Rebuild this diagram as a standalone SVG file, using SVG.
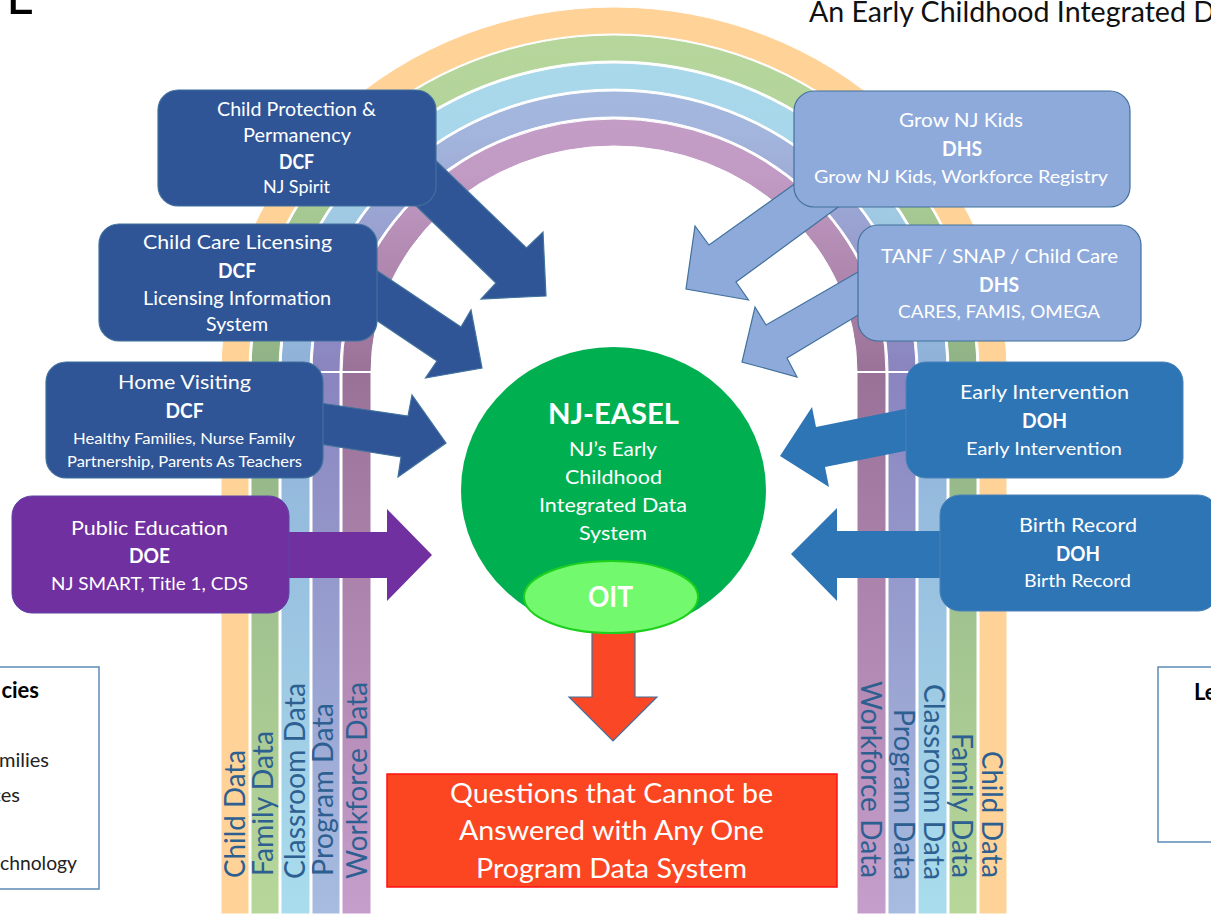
<svg xmlns="http://www.w3.org/2000/svg" width="1211" height="914" viewBox="0 0 1211 914">
<style>
text{font-family:Lato,"Open Sans","Liberation Sans",sans-serif}
.t{fill:#fff;text-anchor:middle}
.m{font-size:20px}
.b{font-size:21px;font-weight:700}
.s{font-size:18px}
.h{font-size:16px}
.box{stroke:#41719c;stroke-width:1.2}
.arw{stroke:#41719c;stroke-width:1.2;stroke-linejoin:miter}
.dcf{fill:#2f5597}
.doh{fill:#2e75b6}
.dhs{fill:#8eaadb}
.doe{fill:#7030a0}
.band{stroke:#fff;stroke-width:1}
.lab{font-size:28px;fill:#2d6091;text-anchor:start}
.leg{fill:#fff;stroke:#5b8ab5;stroke-width:1.5}
.lt{font-size:20px;fill:#222;text-anchor:end}
.ltb{font-size:22px;font-weight:700;fill:#000}
</style>
<defs>
<linearGradient id="gG" gradientUnits="userSpaceOnUse" x1="0" y1="7" x2="0" y2="914"><stop offset="0" stop-color="#b7d79d"/><stop offset=".14" stop-color="#b2d399"/><stop offset=".4" stop-color="#8fb286"/><stop offset="1" stop-color="#b7d79a"/></linearGradient>
<linearGradient id="gB" gradientUnits="userSpaceOnUse" x1="0" y1="7" x2="0" y2="914"><stop offset="0" stop-color="#aadaec"/><stop offset=".14" stop-color="#a8d6ea"/><stop offset=".4" stop-color="#8fb0d8"/><stop offset="1" stop-color="#a9dded"/></linearGradient>
<linearGradient id="gP" gradientUnits="userSpaceOnUse" x1="0" y1="7" x2="0" y2="914"><stop offset="0" stop-color="#a6bbe0"/><stop offset=".14" stop-color="#a3b5dc"/><stop offset=".4" stop-color="#8a84bf"/><stop offset="1" stop-color="#a7bce0"/></linearGradient>
<linearGradient id="gW" gradientUnits="userSpaceOnUse" x1="0" y1="119" x2="0" y2="914"><stop offset="0" stop-color="#c49dc6"/><stop offset=".07" stop-color="#c29bc4"/><stop offset=".32" stop-color="#9a7298"/><stop offset="1" stop-color="#c69ecb"/></linearGradient>
</defs>
<rect width="1211" height="914" fill="#fff"/>
<text x="6" y="14" style="font-size:52px;fill:#000">L</text>
<text x="809" y="22" textLength="406" lengthAdjust="spacingAndGlyphs" style="font-size:29px;fill:#111">An Early Childhood Integrated D</text>

<g id="rainbow">
<path class="band" fill="#ffd398" d="M221 914V372A393 365 0 0 1 1007 372V914H979V372A365 338 0 0 0 249 372V914Z"/>
<path class="band" fill="url(#gG)" d="M251 914V372A363 337 0 0 1 977 372V914H949V372A335 311 0 0 0 279 372V914Z"/>
<path class="band" fill="url(#gB)" d="M281 914V372A333 309 0 0 1 947 372V914H918V372A304 283 0 0 0 310 372V914Z"/>
<path class="band" fill="url(#gP)" d="M312 914V372A302 281 0 0 1 916 372V914H888V372A274 255 0 0 0 340 372V914Z"/>
<path class="band" fill="url(#gW)" d="M342 914V372A272 253 0 0 1 886 372V914H857V372A243 226 0 0 0 371 372V914Z"/>
<path d="M221 372H371M857 372H1007" stroke="#fff" stroke-width="2" fill="none"/>
<text class="lab" transform="translate(245 878) rotate(-90)" textLength="128" lengthAdjust="spacingAndGlyphs">Child Data</text>
<text class="lab" transform="translate(273 876) rotate(-90)" textLength="145" lengthAdjust="spacingAndGlyphs">Family Data</text>
<text class="lab" transform="translate(305 879) rotate(-90)" textLength="196" lengthAdjust="spacingAndGlyphs">Classroom Data</text>
<text class="lab" transform="translate(333 876) rotate(-90)" textLength="173" lengthAdjust="spacingAndGlyphs">Program Data</text>
<text class="lab" transform="translate(367 879) rotate(-90)" textLength="197" lengthAdjust="spacingAndGlyphs">Workforce Data</text>
<text class="lab" transform="translate(861 681) rotate(90)" textLength="197" lengthAdjust="spacingAndGlyphs">Workforce Data</text>
<text class="lab" transform="translate(894 709) rotate(90)" textLength="171" lengthAdjust="spacingAndGlyphs">Program Data</text>
<text class="lab" transform="translate(924 684) rotate(90)" textLength="196" lengthAdjust="spacingAndGlyphs">Classroom Data</text>
<text class="lab" transform="translate(952 733) rotate(90)" textLength="145" lengthAdjust="spacingAndGlyphs">Family Data</text>
<text class="lab" transform="translate(982 751) rotate(90)" textLength="127" lengthAdjust="spacingAndGlyphs">Child Data</text>
</g>

<g id="connectors">
<polygon class="arw dcf" points="430,155 526.5,248 543,232 546,296 481,299 496,283 410,200"/>
<polygon class="arw dcf" points="370,266 461,327 471,310 482,368 425.5,378 437,361 370,316"/>
<polygon class="arw dcf" points="320,403 408,416 412,395 446,443 398,477 401,457 320,444"/>
<polygon fill="#7030a0" points="285,532 387,532 387,509 432,555 387,601 387,578 285,578"/>
<polygon class="arw dhs" points="800,180 709,245 695,226 686,289 748.5,300 736,282 845,202"/>
<polygon class="arw dhs" points="865,268 766,325 755,307 742,362 797,377 787,358 865,311"/>
<polygon class="doh" points="910,408 816,427 812,407 780,456 829,487 825,467 910,450"/>
<polygon class="doh" points="945,531 837,531 837,508 791,554 837,601 837,578 945,578"/>
<polygon class="arw" fill="#fa4726" stroke="#5b7fa8" points="592,625 635,625 635,697 657,697 613,741 569,697 592,697"/>
</g>

<g id="node-cpp">
<rect class="box dcf" x="158" y="90" width="278" height="116" rx="20"/>
<text class="t m" x="296.5" y="116" textLength="159" lengthAdjust="spacingAndGlyphs">Child Protection &amp;</text>
<text class="t m" x="297" y="142" textLength="108" lengthAdjust="spacingAndGlyphs">Permanency</text>
<text class="t b" x="296.5" y="169" textLength="35" lengthAdjust="spacingAndGlyphs">DCF</text>
<text class="t s" x="296.5" y="193" textLength="67" lengthAdjust="spacingAndGlyphs">NJ Spirit</text>
</g>
<g id="node-ccl">
<rect class="box dcf" x="99" y="224" width="278" height="117" rx="20"/>
<text class="t m" x="237.5" y="249" textLength="189" lengthAdjust="spacingAndGlyphs">Child Care Licensing</text>
<text class="t b" x="237" y="278" textLength="38" lengthAdjust="spacingAndGlyphs">DCF</text>
<text class="t m" x="237" y="305" textLength="188" lengthAdjust="spacingAndGlyphs">Licensing Information</text>
<text class="t m" x="237" y="331" textLength="62" lengthAdjust="spacingAndGlyphs">System</text>
</g>
<g id="node-hv">
<rect class="box dcf" x="46" y="362" width="277" height="116" rx="20"/>
<text class="t m" x="184.5" y="389" textLength="133" lengthAdjust="spacingAndGlyphs">Home Visiting</text>
<text class="t b" x="184.5" y="418" textLength="38" lengthAdjust="spacingAndGlyphs">DCF</text>
<text class="t h" x="184" y="444" textLength="222" lengthAdjust="spacingAndGlyphs">Healthy Families, Nurse Family</text>
<text class="t h" x="184.5" y="467" textLength="235" lengthAdjust="spacingAndGlyphs">Partnership, Parents As Teachers</text>
</g>
<g id="node-edu">
<rect class="box doe" style="stroke:#5f44a6;stroke-width:1" x="12" y="496" width="277" height="117" rx="20"/>
<text class="t m" x="149.5" y="535" textLength="157" lengthAdjust="spacingAndGlyphs">Public Education</text>
<text class="t b" x="149.5" y="563" textLength="41" lengthAdjust="spacingAndGlyphs">DOE</text>
<text class="t s" x="149.5" y="590" textLength="197" lengthAdjust="spacingAndGlyphs">NJ SMART, Title 1, CDS</text>
</g>
<g id="node-grow">
<rect class="box dhs" x="794" y="91" width="336" height="116" rx="20"/>
<text class="t m" x="961" y="127" textLength="124" lengthAdjust="spacingAndGlyphs">Grow NJ Kids</text>
<text class="t b" x="962" y="156" textLength="40" lengthAdjust="spacingAndGlyphs">DHS</text>
<text class="t s" x="961" y="183" textLength="294" lengthAdjust="spacingAndGlyphs">Grow NJ Kids, Workforce Registry</text>
</g>
<g id="node-tanf">
<rect class="box dhs" x="858" y="225" width="283" height="116" rx="20"/>
<text class="t m" x="999.5" y="263" textLength="237" lengthAdjust="spacingAndGlyphs">TANF / SNAP / Child Care</text>
<text class="t b" x="999" y="292" textLength="40" lengthAdjust="spacingAndGlyphs">DHS</text>
<text class="t s" x="999" y="318" textLength="202" lengthAdjust="spacingAndGlyphs">CARES, FAMIS, OMEGA</text>
</g>
<g id="node-ei">
<rect class="box doh" style="stroke:#4a82b8;stroke-width:1" x="906" y="362" width="277" height="116" rx="20"/>
<text class="t m" x="1044.5" y="399" textLength="169" lengthAdjust="spacingAndGlyphs">Early Intervention</text>
<text class="t b" x="1044.5" y="428" textLength="45" lengthAdjust="spacingAndGlyphs">DOH</text>
<text class="t s" x="1044" y="455" textLength="156" lengthAdjust="spacingAndGlyphs">Early Intervention</text>
</g>
<g id="node-birth">
<rect class="box doh" style="stroke:#4a82b8;stroke-width:1" x="940" y="495" width="278" height="116" rx="20"/>
<text class="t m" x="1078" y="532" textLength="118" lengthAdjust="spacingAndGlyphs">Birth Record</text>
<text class="t b" x="1078" y="561" textLength="44" lengthAdjust="spacingAndGlyphs">DOH</text>
<text class="t s" x="1077.5" y="587" textLength="107" lengthAdjust="spacingAndGlyphs">Birth Record</text>
</g>
<g id="node-easel">
<ellipse cx="613.5" cy="490" rx="152.5" ry="143" fill="#00b050"/>
<text class="t" style="font-size:29px;font-weight:700" x="613.5" y="424" textLength="131" lengthAdjust="spacingAndGlyphs">NJ-EASEL</text>
<text class="t m" x="613" y="456" textLength="88" lengthAdjust="spacingAndGlyphs">NJ’s Early</text>
<text class="t m" x="613.5" y="484" textLength="97" lengthAdjust="spacingAndGlyphs">Childhood</text>
<text class="t m" x="613" y="512" textLength="148" lengthAdjust="spacingAndGlyphs">Integrated Data</text>
<text class="t m" x="613" y="540" textLength="68" lengthAdjust="spacingAndGlyphs">System</text>
</g>
<g id="node-oit">
<ellipse cx="611" cy="597" rx="87" ry="36" fill="#72f96e" stroke="#1ed01e" stroke-width="2"/>
<text class="t" style="font-size:29px;font-weight:700" x="610.5" y="607" textLength="45" lengthAdjust="spacingAndGlyphs">OIT</text>
</g>
<g id="node-questions">
<rect x="387" y="774" width="450" height="113" fill="#fc4521" stroke="#ff1010" stroke-width="1.5"/>
<text class="t" style="font-size:27px" x="611.5" y="803" textLength="323" lengthAdjust="spacingAndGlyphs">Questions that Cannot be</text>
<text class="t" style="font-size:27px" x="611.5" y="840" textLength="305" lengthAdjust="spacingAndGlyphs">Answered with Any One</text>
<text class="t" style="font-size:27px" x="611.5" y="878" textLength="271" lengthAdjust="spacingAndGlyphs">Program Data System</text>
</g>
<g id="legend-left">
<rect class="leg" x="-10" y="667" width="109" height="222"/>
<text class="ltb" x="39" y="698" style="text-anchor:end">cies</text>
<text class="lt" x="49" y="767">milies</text>
<text class="lt" x="20" y="802">ces</text>
<text class="lt" x="77" y="870" textLength="77" lengthAdjust="spacingAndGlyphs">chnology</text>
</g>
<g id="legend-right">
<rect class="leg" x="1158" y="667" width="70" height="175"/>
<text class="ltb" x="1194" y="700">Le</text>
</g>
</svg>
